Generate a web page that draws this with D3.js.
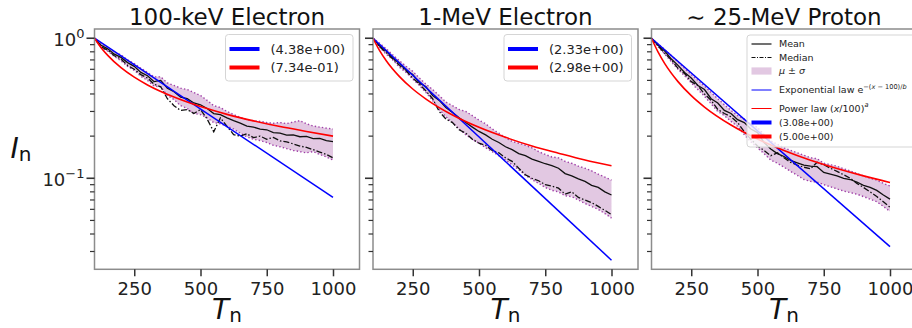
<!DOCTYPE html>
<html>
<head>
<meta charset="utf-8">
<script src="https://cdn.jsdelivr.net/npm/d3@7"></script>
<style>
  body { margin: 0; background: #fff; }
  svg { display: block; font-family: "DejaVu Sans", sans-serif; }
</style>
</head>
<body>
<div id="chart"></div>
<script>
// T_n sample grid for mean / median / band
const tGrid = [100, 125, 150, 175, 200, 225, 250, 275, 300, 325, 350, 375, 400, 425, 450, 475, 500,
  525, 550, 575, 600, 625, 650, 675, 700, 725, 750, 775, 800, 825, 850, 875, 900, 925, 950, 975, 1000];

// 100-keV electron
const meanE100 = [1.0, 0.89, 0.84, 0.77, 0.73, 0.67, 0.63, 0.57, 0.54, 0.49, 0.50, 0.44, 0.415, 0.38, 0.37, 0.345, 0.335, 0.315, 0.29, 0.285,
  0.27, 0.258, 0.248, 0.236, 0.232, 0.224, 0.222, 0.212, 0.21, 0.203, 0.204, 0.198, 0.199, 0.192, 0.193, 0.186, 0.183];
const medianE100 = [1.0, 0.87, 0.82, 0.75, 0.71, 0.64, 0.60, 0.55, 0.52, 0.47, 0.45, 0.37, 0.33, 0.305, 0.31, 0.29, 0.31, 0.265, 0.215, 0.27,
  0.235, 0.205, 0.20, 0.208, 0.195, 0.20, 0.19, 0.196, 0.185, 0.182, 0.176, 0.17, 0.166, 0.16, 0.154, 0.148, 0.14];
const upperE100 = [1.0, 0.92, 0.86, 0.80, 0.76, 0.70, 0.66, 0.61, 0.57, 0.53, 0.53, 0.48, 0.46, 0.44, 0.43, 0.41, 0.39, 0.36, 0.33, 0.32,
  0.30, 0.285, 0.272, 0.262, 0.258, 0.255, 0.25, 0.247, 0.25, 0.246, 0.252, 0.258, 0.245, 0.236, 0.232, 0.228, 0.225];
const lowerE100 = [1.0, 0.86, 0.81, 0.74, 0.69, 0.63, 0.59, 0.535, 0.50, 0.455, 0.45, 0.39, 0.365, 0.33, 0.315, 0.29, 0.285, 0.27, 0.25, 0.245,
  0.235, 0.225, 0.21, 0.198, 0.19, 0.186, 0.18, 0.172, 0.168, 0.163, 0.158, 0.155, 0.152, 0.155, 0.148, 0.142, 0.135];

// 1-MeV electron
const meanE1M = [1.0, 0.88, 0.81, 0.72, 0.66, 0.59, 0.55, 0.48, 0.45, 0.39, 0.36, 0.32, 0.295, 0.27, 0.25, 0.232, 0.216, 0.204, 0.19, 0.18,
  0.168, 0.16, 0.15, 0.145, 0.137, 0.132, 0.127, 0.123, 0.118, 0.108, 0.104, 0.099, 0.095, 0.089, 0.086, 0.08, 0.076];
const medianE1M = [1.0, 0.87, 0.79, 0.71, 0.64, 0.585, 0.52, 0.47, 0.42, 0.37, 0.30, 0.265, 0.25, 0.222, 0.21, 0.19, 0.178, 0.172, 0.158, 0.152,
  0.14, 0.132, 0.118, 0.106, 0.10, 0.096, 0.09, 0.088, 0.085, 0.077, 0.08, 0.073, 0.07, 0.067, 0.063, 0.059, 0.055];
const upperE1M = [1.0, 0.92, 0.84, 0.76, 0.69, 0.63, 0.58, 0.52, 0.47, 0.43, 0.39, 0.35, 0.33, 0.31, 0.30, 0.28, 0.26, 0.245, 0.225, 0.21,
  0.195, 0.183, 0.178, 0.172, 0.165, 0.155, 0.148, 0.142, 0.14, 0.132, 0.128, 0.122, 0.118, 0.113, 0.107, 0.102, 0.097];
const lowerE1M = [1.0, 0.86, 0.77, 0.70, 0.62, 0.57, 0.51, 0.46, 0.41, 0.36, 0.31, 0.275, 0.25, 0.225, 0.205, 0.19, 0.178, 0.165, 0.155, 0.145,
  0.135, 0.125, 0.115, 0.105, 0.098, 0.092, 0.086, 0.082, 0.08, 0.075, 0.074, 0.07, 0.066, 0.063, 0.06, 0.056, 0.052];

// ~25-MeV proton
const meanP25 = [1.0, 0.89, 0.81, 0.71, 0.64, 0.57, 0.52, 0.46, 0.43, 0.37, 0.345, 0.305, 0.29, 0.262, 0.25, 0.225, 0.212, 0.18, 0.162, 0.15,
  0.143, 0.134, 0.129, 0.124, 0.122, 0.121, 0.11, 0.107, 0.104, 0.10, 0.098, 0.094, 0.089, 0.086, 0.082, 0.076, 0.071];
const medianP25 = [1.0, 0.88, 0.78, 0.70, 0.61, 0.56, 0.49, 0.46, 0.40, 0.36, 0.31, 0.29, 0.275, 0.25, 0.215, 0.19, 0.17, 0.158, 0.145, 0.152,
  0.14, 0.13, 0.124, 0.12, 0.117, 0.13, 0.125, 0.118, 0.112, 0.106, 0.10, 0.092, 0.086, 0.08, 0.074, 0.068, 0.062];
const upperP25 = [1.0, 0.91, 0.83, 0.75, 0.68, 0.61, 0.55, 0.50, 0.455, 0.41, 0.37, 0.335, 0.305, 0.28, 0.265, 0.245, 0.23, 0.205, 0.185, 0.175,
  0.165, 0.158, 0.152, 0.146, 0.14, 0.138, 0.128, 0.125, 0.122, 0.117, 0.113, 0.108, 0.104, 0.10, 0.097, 0.092, 0.088];
const lowerP25 = [1.0, 0.87, 0.77, 0.68, 0.60, 0.54, 0.48, 0.43, 0.385, 0.34, 0.30, 0.28, 0.255, 0.235, 0.205, 0.182, 0.165, 0.15, 0.135, 0.128,
  0.12, 0.112, 0.105, 0.098, 0.095, 0.094, 0.09, 0.087, 0.084, 0.081, 0.079, 0.077, 0.074, 0.071, 0.068, 0.063, 0.058];

// fitted curves
const expT = [100, 1000];
const expE100 = [1, 0.073];
const expE1M = [1, 0.026];
const expP25 = [1, 0.0325];

const powT = [100, 125, 150, 200, 250, 300, 400, 500, 600, 700, 800, 900, 1000];
const powE100 = [1, 0.856, 0.754, 0.616, 0.527, 0.464, 0.380, 0.325, 0.286, 0.257, 0.234, 0.216, 0.200];
const powE1M = [1, 0.816, 0.691, 0.532, 0.434, 0.368, 0.283, 0.231, 0.196, 0.170, 0.151, 0.135, 0.123];
const powP25 = [1, 0.795, 0.659, 0.490, 0.389, 0.3225, 0.240, 0.1906, 0.158, 0.1347, 0.1175, 0.104, 0.0933];

const titles = ["100-keV Electron", "1-MeV Electron", "\u223C 25-MeV Proton"];
const fitLabels = [["(4.38e+00)", "(7.34e-01)"], ["(2.33e+00)", "(2.98e+00)"], ["(3.08e+00)", "(5.00e+00)"]];

const xTicks = [250, 500, 750, 1000];
const yMajor = [0.1, 1];
const yMinor = [0.03, 0.04, 0.05, 0.06, 0.07, 0.08, 0.09, 0.2, 0.3, 0.4, 0.5, 0.6, 0.7, 0.8, 0.9];

const panels = [
  { mean: meanE100, median: medianE100, upper: upperE100, lower: lowerE100, exp: expE100, pow: powE100 },
  { mean: meanE1M, median: medianE1M, upper: upperE1M, lower: lowerE1M, exp: expE1M, pow: powE1M },
  { mean: meanP25, median: medianP25, upper: upperP25, lower: lowerP25, exp: expP25, pow: powP25 }
];

const W = 912, H = 328;
const plotTop = 29, plotBottom = 269.3, pw = 265;
const BLUE = "#0000ff", RED = "#ff0000", BAND = "#e2c8e2", BAND_EDGE = "#a040a8";

const svg = d3.select("#chart").append("svg")
  .attr("width", W).attr("height", H);

const y = d3.scaleLog()
  .domain([Math.pow(10, -1.65), Math.pow(10, 0.066)])
  .range([plotBottom, plotTop]);

panels.forEach((p, i) => {
  const left = 94.5 + i * 278.5;
  const x = d3.scaleLinear().domain([100, 1100]).range([left, left + pw]);
  const g = svg.append("g");

  const clipId = "clip" + i;
  svg.append("clipPath").attr("id", clipId)
    .append("rect").attr("x", left).attr("y", plotTop).attr("width", pw).attr("height", plotBottom - plotTop);
  const plot = g.append("g").attr("clip-path", `url(#${clipId})`);

  const rows = tGrid.map((t, k) => ({ t, mean: p.mean[k], median: p.median[k], up: p.upper[k], lo: p.lower[k] }));

  // band mu +- sigma
  plot.append("path").datum(rows)
    .attr("d", d3.area().x(d => x(d.t)).y0(d => y(d.lo)).y1(d => y(d.up)))
    .attr("fill", BAND);
  ["up", "lo"].forEach(key => {
    plot.append("path").datum(rows)
      .attr("d", d3.line().x(d => x(d.t)).y(d => y(d[key])))
      .attr("fill", "none").attr("stroke", BAND_EDGE)
      .attr("stroke-width", 1.4).attr("stroke-dasharray", "1.4,2.2");
  });

  plot.append("path").datum(rows)
    .attr("d", d3.line().x(d => x(d.t)).y(d => y(d.mean)))
    .attr("fill", "none").attr("stroke", "#111").attr("stroke-width", 1.3);
  plot.append("path").datum(rows)
    .attr("d", d3.line().x(d => x(d.t)).y(d => y(d.median)))
    .attr("fill", "none").attr("stroke", "#111").attr("stroke-width", 1.3)
    .attr("stroke-dasharray", "6,2,1.5,2");

  // exponential fit (straight in log-y)
  plot.append("path").datum(expT.map((t, k) => [t, p.exp[k]]))
    .attr("d", d3.line().x(d => x(d[0])).y(d => y(d[1])))
    .attr("fill", "none").attr("stroke", BLUE).attr("stroke-width", 1.5);
  // power-law fit
  plot.append("path").datum(powT.map((t, k) => [t, p.pow[k]]))
    .attr("d", d3.line().x(d => x(d[0])).y(d => y(d[1])).curve(d3.curveMonotoneX))
    .attr("fill", "none").attr("stroke", RED).attr("stroke-width", 1.6);

  // frame
  g.append("rect").attr("x", left).attr("y", plotTop).attr("width", pw).attr("height", plotBottom - plotTop)
    .attr("fill", "none").attr("stroke", "#8c8c8c").attr("stroke-width", 1.5);

  // x axis
  const xa = g.append("g").attr("transform", `translate(0,${plotBottom})`)
    .call(d3.axisBottom(x).tickValues(xTicks).tickFormat(d3.format("d"))
      .tickSize(7).tickSizeOuter(0).tickPadding(6));
  xa.select(".domain").remove();
  xa.selectAll("line").attr("stroke", "#333").attr("stroke-width", 1.5);
  xa.selectAll("text").attr("font-size", 18).attr("fill", "#222")
    .attr("font-family", "DejaVu Sans");

  // y axis: minor then major ticks
  const ya = g.append("g").attr("transform", `translate(${left},0)`);
  ya.selectAll("line.minor").data(yMinor).join("line")
    .attr("x1", -4.5).attr("x2", 0).attr("y1", d => y(d)).attr("y2", d => y(d))
    .attr("stroke", "#333").attr("stroke-width", 1.2);
  ya.selectAll("line.major").data(yMajor).join("line")
    .attr("x1", -8).attr("x2", 0).attr("y1", d => y(d)).attr("y2", d => y(d))
    .attr("stroke", "#333").attr("stroke-width", 1.6);
  if (i === 0) {
    const lab = ya.selectAll("text.ylab").data(yMajor).join("text")
      .attr("x", -10).attr("y", d => y(d) + 7.8)
      .attr("text-anchor", "end").attr("fill", "#222");
    lab.append("tspan").attr("font-size", 18).text("10");
    lab.append("tspan").attr("font-size", 13).attr("dy", -8.4)
      .text(d => Math.round(Math.log10(d)) === 0 ? "0" : "\u2212" + (-Math.round(Math.log10(d))));
  }

  // title and x label
  g.append("text").attr("x", left + pw / 2).attr("y", 25)
    .attr("text-anchor", "middle").attr("font-size", 23).attr("fill", "#111")
    .text(titles[i]);
  const xl = g.append("text").attr("x", left + pw / 2).attr("y", 319)
    .attr("text-anchor", "middle").attr("fill", "#111");
  xl.append("tspan").attr("font-size", 28).attr("font-style", "italic").text("T");
  xl.append("tspan").attr("font-size", 20).attr("dy", 3).text("n");

  // legends
  const fr = fitLabels[i];
  if (i < 2) {
    const bw = 127.5, bx = left + pw - 6.5 - bw, by = 34.5;
    const lg = g.append("g");
    lg.append("rect").attr("x", bx).attr("y", by).attr("width", bw).attr("height", 46.5)
      .attr("rx", 3).attr("fill", "#fff").attr("fill-opacity", 0.8)
      .attr("stroke", "#d5d5d5").attr("stroke-width", 1);
    [BLUE, RED].forEach((c, k) => {
      const yy = 49 + k * 18.5;
      lg.append("line").attr("x1", bx + 4).attr("x2", bx + 34).attr("y1", yy).attr("y2", yy)
        .attr("stroke", c).attr("stroke-width", 4);
      lg.append("text").attr("x", bx + 45).attr("y", yy).attr("dy", "0.35em")
        .attr("font-size", 13).attr("fill", "#222").text(fr[k]);
    });
  } else {
    const bx = 747, by = 35;
    const lg = g.append("g").attr("font-size", 9.5).attr("fill", "#222");
    lg.append("rect").attr("x", bx).attr("y", by).attr("width", 172).attr("height", 112)
      .attr("rx", 3).attr("fill", "#fff").attr("fill-opacity", 0.8)
      .attr("stroke", "#d5d5d5").attr("stroke-width", 1);
    const hx1 = bx + 4.5, hx2 = bx + 24.5, tx = bx + 32;
    const rowY = [44, 57.5, 71, 90, 108.5, 122.5, 136.5];
    const hl = (yy, c, w, dash) => lg.append("line").attr("x1", hx1).attr("x2", hx2)
      .attr("y1", yy).attr("y2", yy).attr("stroke", c).attr("stroke-width", w)
      .attr("stroke-dasharray", dash || null);
    const txt = yy => lg.append("text").attr("x", tx).attr("y", yy).attr("dy", "0.35em");

    hl(rowY[0], "#111", 1.2); txt(rowY[0]).text("Mean");
    hl(rowY[1], "#111", 1.2, "4,1.5,1,1.5"); txt(rowY[1]).text("Median");
    lg.append("rect").attr("x", hx1).attr("y", rowY[2] - 3.6).attr("width", 20).attr("height", 7.2)
      .attr("fill", BAND);
    const ms = txt(rowY[2]);
    ms.append("tspan").attr("font-style", "italic").text("\u03BC");
    ms.append("tspan").text(" \u00B1 ");
    ms.append("tspan").attr("font-style", "italic").text("\u03C3");

    hl(rowY[3], BLUE, 1);
    const ex = txt(rowY[3]);
    ex.append("tspan").text("Exponential law e");
    const sup = ex.append("tspan").attr("font-size", 6.6).attr("dy", -4.5);
    sup.append("tspan").text("\u2212(");
    sup.append("tspan").attr("font-style", "italic").text("x");
    sup.append("tspan").text(" \u2212 100)/");
    sup.append("tspan").attr("font-style", "italic").text("b");

    hl(rowY[4], RED, 1);
    const pl = txt(rowY[4]);
    pl.append("tspan").text("Power law (");
    pl.append("tspan").attr("font-style", "italic").text("x");
    pl.append("tspan").text("/100)");
    pl.append("tspan").attr("font-size", 6.6).attr("dy", -4.5).attr("font-style", "italic").text("a");

    hl(rowY[5], BLUE, 4); txt(rowY[5]).text(fr[0]);
    hl(rowY[6], RED, 4); txt(rowY[6]).text(fr[1]);
  }
});

// y label
const ylab = svg.append("text").attr("x", 21).attr("y", 158)
  .attr("text-anchor", "middle").attr("fill", "#111");
ylab.append("tspan").attr("font-size", 28).attr("font-style", "italic").text("I");
ylab.append("tspan").attr("font-size", 20).attr("dy", 3).text("n");
</script>
</body>
</html>
